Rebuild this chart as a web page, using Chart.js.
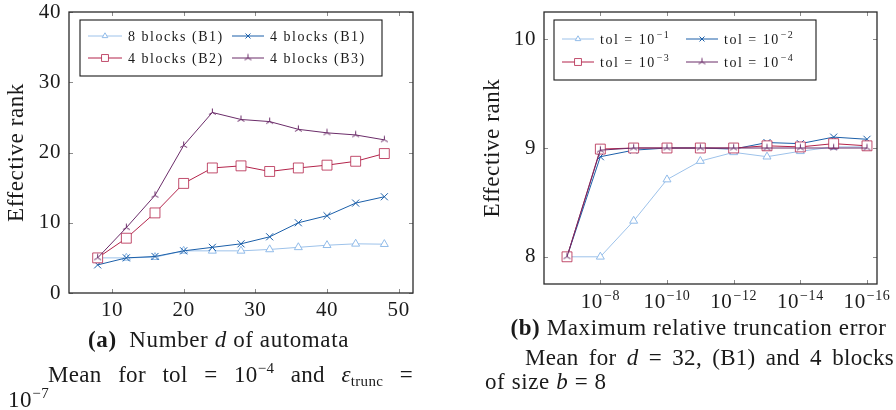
<!DOCTYPE html>
<html>
<head>
<meta charset="utf-8">
<script src="https://cdn.jsdelivr.net/npm/chart.js@4.4.1/dist/chart.umd.min.js"></script>
<style>
body { margin: 0; background: #fff; width: 896px; height: 410px; overflow: hidden; position: relative;
       font-family: 'Liberation Serif', serif; color: #1a1a1a; }
.box { position: absolute; }
.cap { position: absolute; font-size: 23px; line-height: 23px; white-space: nowrap; letter-spacing: 0.6px; }
.just { text-align: justify; text-align-last: justify; letter-spacing: 0.3px; }
.sup { font-size: 15px; position: relative; top: -9px; }
.sub { font-size: 15px; position: relative; top: 4px; }
</style>
</head>
<body>
<div class="box" style="left:0;top:0;width:440px;height:330px"><canvas id="leftChart" width="440" height="330"></canvas></div>
<div class="box" style="left:448px;top:0;width:448px;height:320px"><canvas id="rightChart" width="448" height="320"></canvas></div>

<div class="cap" style="left:0;top:328px;width:437px;text-align:center"><b>(a)</b>&nbsp; Number <i>d</i> of automata</div>
<div class="cap just" style="left:48px;top:363px;width:365px">Mean for tol = 10<span class="sup">−4</span> and <i>ε</i><span class="sub">trunc</span> =</div>
<div class="cap" style="left:8px;top:388px">10<span class="sup">−7</span></div>

<div class="cap" style="left:500px;top:316px;width:397px;text-align:center"><b>(b)</b> Maximum relative truncation error</div>
<div class="cap just" style="left:525px;top:346px;width:369px">Mean for <i>d</i> = 32, (B1) and 4 blocks</div>
<div class="cap" style="left:485px;top:370px">of size <i>b</i> = 8</div>

<script>
// (a) effective rank vs number of automata
var automataCounts = [8, 12, 16, 20, 24, 28, 32, 36, 40, 44, 48];
var rank8B1 = [5.0, 5.0, 5.1, 6.0, 6.0, 6.0, 6.2, 6.5, 6.8, 7.0, 6.95];
var rank4B1 = [4.0, 5.0, 5.2, 6.0, 6.5, 7.0, 8.0, 10.0, 11.0, 12.8, 13.7];
var rank4B2 = [5.0, 7.8, 11.4, 15.6, 17.8, 18.1, 17.3, 17.8, 18.2, 18.75, 19.85];
var rank4B3 = [5.0, 9.3, 13.9, 21.0, 25.7, 24.7, 24.4, 23.3, 22.8, 22.5, 21.8];
var leftLabels = ['8 blocks (B1)', '4 blocks (B1)', '4 blocks (B2)', '4 blocks (B3)'];
var leftXTicks = [10, 20, 30, 40, 50];
var leftYTicks = [0, 10, 20, 30, 40];

// (b) effective rank vs max relative truncation error 10^-k
var truncExponents = [7, 8, 9, 10, 11, 12, 13, 14, 15, 16];
var rankTol1 = [8.0, 8.0, 8.33, 8.71, 8.88, 8.96, 8.92, 8.97, 9.01, 9.01];
var rankTol2 = [8.0, 8.92, 8.98, 9.0, 9.0, 8.99, 9.05, 9.04, 9.1, 9.08];
var rankTol3 = [8.0, 8.99, 9.0, 9.0, 9.0, 9.0, 9.02, 9.01, 9.04, 9.02];
var rankTol4 = [8.0, 8.98, 9.0, 9.0, 9.0, 9.0, 9.0, 9.0, 9.0, 9.0];
var tolExponents = [1, 2, 3, 4];
var rightXTicks = [8, 10, 12, 14, 16];
var rightYTicks = [8, 9, 10];

var FONT = "'Liberation Serif', serif";
var lightBlue = '#9dc2ea', darkBlue = '#1b5fa9', red = '#b3234a', purple = '#6b2c69';

function triStar(color, r) {
    var s = Math.ceil(r * 2 + 3);
    var c = document.createElement('canvas');
    c.width = c.height = s;
    var g = c.getContext('2d');
    var m = s / 2;
    g.strokeStyle = color;
    g.lineWidth = 1;
    g.beginPath();
    [-90, 30, 150].forEach(function(a) {
        g.moveTo(m, m);
        g.lineTo(m + r * Math.cos(a * Math.PI / 180), m + r * Math.sin(a * Math.PI / 180));
    });
    g.stroke();
    return c;
}

function points(xs, ys) {
    return xs.map(function(x, i) { return { x: x, y: ys[i] }; });
}

function series(label, data, color, markColor, style, radius, order) {
    return {
        label: label, data: data, order: order,
        borderColor: color, borderWidth: 1, tension: 0, fill: false,
        pointStyle: style, pointRadius: radius, pointHoverRadius: radius,
        pointBorderColor: markColor, pointBackgroundColor: '#fff', pointBorderWidth: 1
    };
}

function fixedTicks(list) {
    return function(axis) { axis.ticks = list.map(function(v) { return { value: v }; }); };
}

function noEdgePadding(s) {
    s.paddingTop = 0; s.paddingBottom = 0;
}

function supText(ctx, base, sup, x, y, size, supSize, rise, center) {
    ctx.font = size + 'px ' + FONT;
    var wb = ctx.measureText(base).width;
    ctx.font = supSize + 'px ' + FONT;
    var ws = sup ? ctx.measureText(sup).width + 1 : 0;
    var x0 = center ? x - (wb + ws) / 2 : x;
    ctx.font = size + 'px ' + FONT;
    ctx.fillText(base, x0, y);
    if (sup) {
        ctx.font = supSize + 'px ' + FONT;
        ctx.fillText(sup, x0 + wb + 1, y - rise);
    }
}

// frame, inner tick marks, boxed legend, superscript tick labels
var decorPlugin = {
    id: 'decor',
    beforeDraw: function(chart) {
        chart.ctx.letterSpacing = '0.6px';
    },
    afterDraw: function(chart) {
        var ctx = chart.ctx, a = chart.chartArea;
        var o = chart.options.plugins.decor;
        var xs = chart.scales.x, ys = chart.scales.y;
        ctx.save();
        ctx.strokeStyle = '#8c8c8c';
        ctx.lineWidth = 1;
        ctx.beginPath();
        xs.ticks.forEach(function(t) {
            var px = Math.round(xs.getPixelForValue(t.value)) + 0.5;
            ctx.moveTo(px, a.bottom); ctx.lineTo(px, a.bottom - 4);
            ctx.moveTo(px, a.top); ctx.lineTo(px, a.top + 4);
        });
        ys.ticks.forEach(function(t) {
            var py = Math.round(ys.getPixelForValue(t.value)) + 0.5;
            ctx.moveTo(a.left, py); ctx.lineTo(a.left + 4, py);
            ctx.moveTo(a.right, py); ctx.lineTo(a.right - 4, py);
        });
        ctx.stroke();

        ctx.strokeStyle = '#2a2a2a';
        ctx.lineWidth = 1.3;
        ctx.strokeRect(a.left, a.top, a.right - a.left, a.bottom - a.top);

        ctx.fillStyle = '#1a1a1a';
        ctx.textBaseline = 'alphabetic';
        ctx.textAlign = 'left';
        if (o.powerTicks) {
            xs.ticks.forEach(function(t) {
                supText(ctx, '10', '−' + t.value, xs.getPixelForValue(t.value), a.bottom + 24, 21, 14, 8, true);
            });
        }

        // legend
        var L = o.legend;
        var bx = a.left + L.x, by = a.top + L.y;
        ctx.fillStyle = '#fff';
        ctx.fillRect(bx, by, L.w, L.h);
        ctx.strokeStyle = '#1a1a1a';
        ctx.lineWidth = 1.1;
        ctx.strokeRect(bx, by, L.w, L.h);
        chart.data.datasets.forEach(function(ds, i) {
            var row = Math.floor(i / 2), col = L.cols[i % 2];
            var y = by + L.rows[row];
            ctx.strokeStyle = ds.borderColor;
            ctx.lineWidth = 1;
            ctx.beginPath();
            ctx.moveTo(bx + col[0], y); ctx.lineTo(bx + col[1], y);
            ctx.stroke();
            ctx.fillStyle = '#fff';
            ctx.strokeStyle = ds.pointBorderColor;
            Chart.helpers.drawPoint(ctx, { pointStyle: ds.pointStyle, rotation: 0, radius: ds.pointRadius * 0.7, borderWidth: 1 },
                bx + (col[0] + col[1]) / 2, y);
            ctx.fillStyle = '#1a1a1a';
            ctx.letterSpacing = L.spacing;
            var lab = L.labels[i];
            supText(ctx, lab[0], lab[1], bx + col[2], y + 5, 14, 10, 6, false);
        });
        ctx.restore();
        ctx.letterSpacing = '0px';
    }
};

function axisFont() { return { family: FONT, size: 21 }; }
function titleFont() { return { family: FONT, size: 23 }; }

new Chart(document.getElementById('leftChart'), {
    type: 'line',
    data: {
        datasets: [
            series(leftLabels[0], points(automataCounts, rank8B1), lightBlue, 'rgba(140,184,232,0.95)', 'triangle', 4.6, 3),
            series(leftLabels[1], points(automataCounts, rank4B1), darkBlue, darkBlue, 'crossRot', 5, 2),
            series(leftLabels[2], points(automataCounts, rank4B2), red, 'rgba(179,35,74,0.8)', 'rect', 7, 1),
            series(leftLabels[3], points(automataCounts, rank4B3), purple, purple, triStar(purple, 4), 4, 0)
        ]
    },
    options: {
        responsive: false, animation: false,
        layout: { padding: { top: 12, right: 27, left: 0, bottom: 0 } },
        plugins: {
            legend: { display: false }, tooltip: { enabled: false },
            decor: {
                legend: { x: 11, y: 8, w: 302, h: 56, rows: [16, 38], cols: [[8, 42, 48], [152, 184, 190]],
                          spacing: '1.5px', labels: leftLabels.map(function(s) { return [s, '']; }) }
            }
        },
        scales: {
            x: {
                type: 'linear', min: 4, max: 52, afterBuildTicks: fixedTicks(leftXTicks),
                grid: { display: false, drawTicks: false }, border: { display: false },
                ticks: { font: axisFont(), color: '#1a1a1a', padding: 5, maxRotation: 0, autoSkip: false },
                afterFit: function(s) { s.height = 37; s.paddingLeft = 0; s.paddingRight = 0; }
            },
            y: {
                min: 0, max: 40, afterBuildTicks: fixedTicks(leftYTicks),
                grid: { display: false, drawTicks: false }, border: { display: false },
                title: { display: true, text: 'Effective rank', font: titleFont(), color: '#1a1a1a', padding: { top: 3, bottom: 0 } },
                ticks: { font: axisFont(), color: '#1a1a1a', padding: 8 },
                afterFit: function(s) { s.width = 69; noEdgePadding(s); }
            }
        }
    },
    plugins: [decorPlugin]
});

new Chart(document.getElementById('rightChart'), {
    type: 'line',
    data: {
        datasets: [
            series('tol 1', points(truncExponents, rankTol1), lightBlue, 'rgba(140,184,232,0.95)', 'triangle', 4.6, 3),
            series('tol 2', points(truncExponents, rankTol2), darkBlue, darkBlue, 'crossRot', 5, 2),
            series('tol 3', points(truncExponents, rankTol3), red, 'rgba(179,35,74,0.8)', 'rect', 7, 1),
            series('tol 4', points(truncExponents, rankTol4), purple, purple, triStar(purple, 4), 4, 0)
        ]
    },
    options: {
        responsive: false, animation: false,
        layout: { padding: { top: 12, right: 19, left: 0, bottom: 0 } },
        plugins: {
            legend: { display: false }, tooltip: { enabled: false },
            decor: {
                powerTicks: true,
                legend: { x: 10, y: 8, w: 262, h: 60, rows: [19, 42], cols: [[8, 40, 46], [132, 164, 170]],
                          spacing: '1.5px', labels: tolExponents.map(function(e) { return ['tol = 10', '−' + e]; }) }
            }
        },
        scales: {
            x: {
                type: 'linear', min: 6.31, max: 16.3, afterBuildTicks: fixedTicks(rightXTicks),
                grid: { display: false, drawTicks: false }, border: { display: false },
                ticks: { display: false },
                afterFit: function(s) { s.height = 36; s.paddingLeft = 0; s.paddingRight = 0; }
            },
            y: {
                min: 7.75, max: 10.25, afterBuildTicks: fixedTicks(rightYTicks),
                grid: { display: false, drawTicks: false }, border: { display: false },
                title: { display: true, text: 'Effective rank', font: titleFont(), color: '#1a1a1a', padding: { top: 31, bottom: 0 } },
                ticks: { font: axisFont(), color: '#1a1a1a', padding: 8 },
                afterFit: function(s) { s.width = 96; noEdgePadding(s); }
            }
        }
    },
    plugins: [decorPlugin]
});
</script>
</body>
</html>
